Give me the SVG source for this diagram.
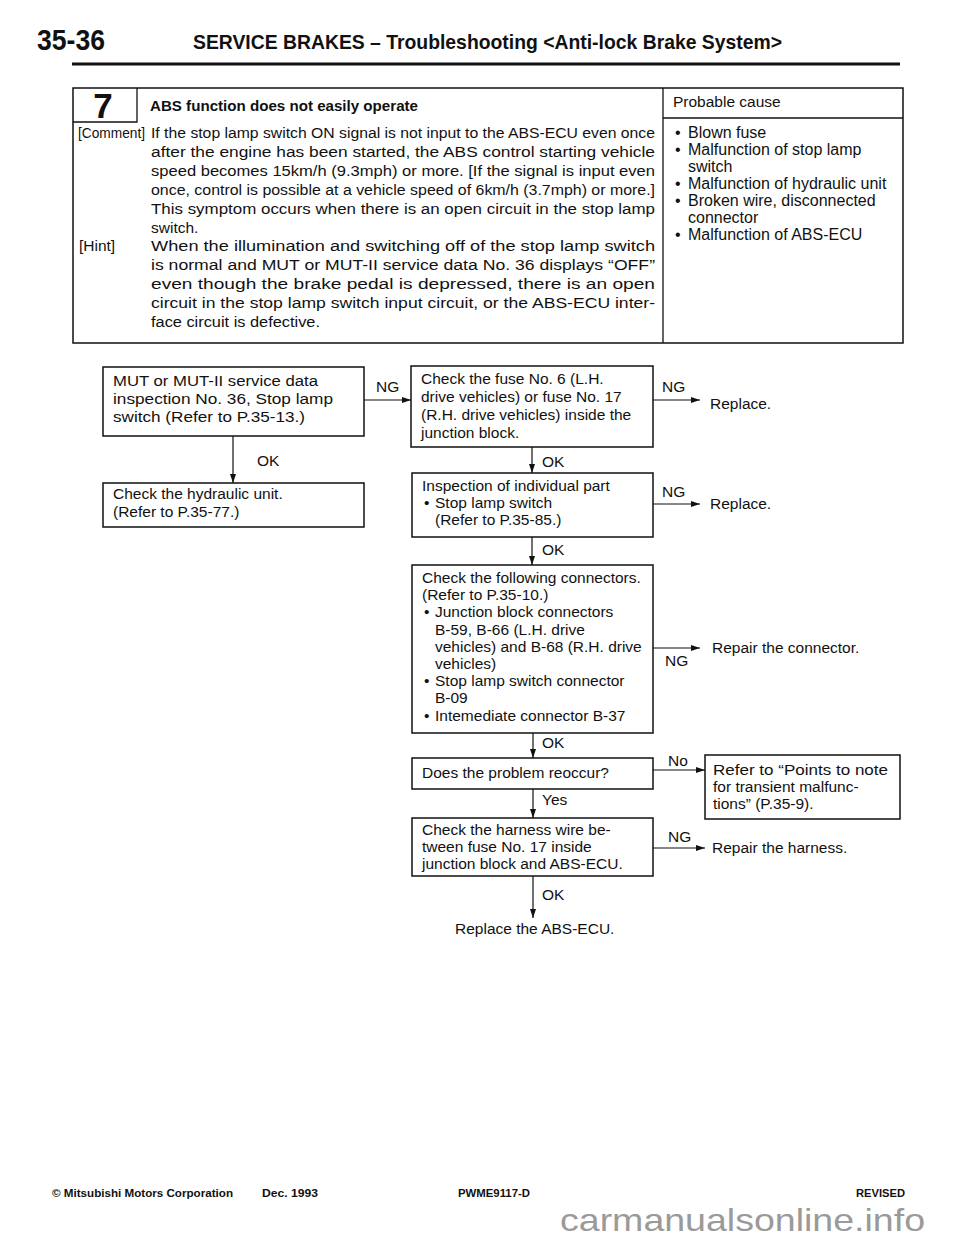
<svg xmlns="http://www.w3.org/2000/svg" width="960" height="1239" viewBox="0 0 960 1239">
<defs>
<marker id="arr" markerWidth="9" markerHeight="6" refX="9" refY="3" orient="auto" markerUnits="userSpaceOnUse">
<path d="M0,0 L9,3 L0,6 z" fill="#111"/>
</marker>
<style>
text{font-family:"Liberation Sans",Arial,sans-serif;fill:#111}
.t{font-size:15.5px}
.p{font-size:16px}
.f{font-size:15.5px}
.b{font-weight:bold}
.box{fill:none;stroke:#111;stroke-width:1.5}
.ln{stroke:#111;stroke-width:1.3;fill:none}
.cn{stroke:#111;stroke-width:1.2;fill:none;marker-end:url(#arr)}
.ft{font-size:10.5px;font-weight:bold}
</style>
</defs>
<rect width="960" height="1239" fill="#fff"/>

<g id="header">
<text x="37" y="50" class="b" font-size="29" textLength="68" lengthAdjust="spacingAndGlyphs">35-36</text>
<text x="193" y="49" class="b" font-size="21" textLength="589" lengthAdjust="spacingAndGlyphs">SERVICE BRAKES – Troubleshooting &lt;Anti-lock Brake System&gt;</text>
<line x1="72" y1="64" x2="900" y2="64" stroke="#111" stroke-width="3"/>
</g>

<g id="symptom-table">
<rect x="73" y="88" width="830" height="255" class="box"/>
<polyline points="73,122 137,122 137,88" class="ln"/>
<text x="103" y="118" class="b" font-size="35" text-anchor="middle">7</text>
<text x="150" y="111" class="b" font-size="15.5" textLength="268" lengthAdjust="spacingAndGlyphs">ABS function does not easily operate</text>
<line x1="663" y1="88" x2="663" y2="343" class="ln"/>
<line x1="663" y1="118" x2="903" y2="118" class="ln"/>
<text x="673" y="107" class="t">Probable cause</text>
<text x="675" y="138" class="p">•</text><text x="688" y="138" class="p">Blown fuse</text>
<text x="675" y="155" class="p">•</text><text x="688" y="155" class="p">Malfunction of stop lamp</text>
<text x="688" y="172" class="p">switch</text>
<text x="675" y="189" class="p">•</text><text x="688" y="189" class="p">Malfunction of hydraulic unit</text>
<text x="675" y="206" class="p">•</text><text x="688" y="206" class="p">Broken wire, disconnected</text>
<text x="688" y="223" class="p">connector</text>
<text x="675" y="240" class="p">•</text><text x="688" y="240" class="p">Malfunction of ABS-ECU</text>

<text x="78" y="138" font-size="15" textLength="67" lengthAdjust="spacingAndGlyphs">[Comment]</text>
<text x="151" y="138" class="t" textLength="504" lengthAdjust="spacingAndGlyphs">If the stop lamp switch ON signal is not input to the ABS-ECU even once</text>
<text x="151" y="156.9" class="t" textLength="504" lengthAdjust="spacingAndGlyphs">after the engine has been started, the ABS control starting vehicle</text>
<text x="151" y="175.8" class="t" textLength="504" lengthAdjust="spacingAndGlyphs">speed becomes 15km/h (9.3mph) or more. [If the signal is input even</text>
<text x="151" y="194.7" class="t" textLength="504" lengthAdjust="spacingAndGlyphs">once, control is possible at a vehicle speed of 6km/h (3.7mph) or more.]</text>
<text x="151" y="213.6" class="t" textLength="504" lengthAdjust="spacingAndGlyphs">This symptom occurs when there is an open circuit in the stop lamp</text>
<text x="151" y="232.5" class="t">switch.</text>
<text x="79" y="251.4" class="t">[Hint]</text>
<text x="151" y="251.4" class="t" textLength="504" lengthAdjust="spacingAndGlyphs">When the illumination and switching off of the stop lamp switch</text>
<text x="151" y="270.3" class="t" textLength="504" lengthAdjust="spacingAndGlyphs">is normal and MUT or MUT-II service data No. 36 displays “OFF”</text>
<text x="151" y="289.2" class="t" textLength="504" lengthAdjust="spacingAndGlyphs">even though the brake pedal is depressed, there is an open</text>
<text x="151" y="308.1" class="t" textLength="504" lengthAdjust="spacingAndGlyphs">circuit in the stop lamp switch input circuit, or the ABS-ECU inter-</text>
<text x="151" y="327" class="t" textLength="169" lengthAdjust="spacingAndGlyphs">face circuit is defective.</text>
</g>

<g id="connectors">
<line x1="233" y1="436" x2="233" y2="483" class="cn"/>
<line x1="364" y1="400" x2="411" y2="400" class="cn"/>
<line x1="653" y1="400" x2="700" y2="400" class="cn"/>
<line x1="532" y1="447" x2="532" y2="473" class="cn"/>
<line x1="653" y1="504" x2="700" y2="504" class="cn"/>
<line x1="532" y1="537" x2="532" y2="565" class="cn"/>
<line x1="653" y1="648" x2="700" y2="648" class="cn"/>
<line x1="533" y1="733" x2="533" y2="758" class="cn"/>
<line x1="653" y1="770" x2="705" y2="770" class="cn"/>
<line x1="533" y1="789" x2="533" y2="818" class="cn"/>
<line x1="653" y1="848" x2="705" y2="848" class="cn"/>
<line x1="533" y1="876" x2="533" y2="918" class="cn"/>
<text x="257" y="466" class="f">OK</text>
<text x="376" y="392" class="f">NG</text>
<text x="662" y="392" class="f">NG</text>
<text x="542" y="467" class="f">OK</text>
<text x="662" y="497" class="f">NG</text>
<text x="542" y="555" class="f">OK</text>
<text x="665" y="666" class="f">NG</text>
<text x="542" y="748" class="f">OK</text>
<text x="668" y="766" class="f">No</text>
<text x="542" y="805" class="f">Yes</text>
<text x="668" y="842" class="f">NG</text>
<text x="542" y="900" class="f">OK</text>
</g>

<g id="node-mut">
<rect x="103" y="367" width="261" height="69" class="box"/>
<text x="113" y="386" class="f" textLength="205" lengthAdjust="spacingAndGlyphs">MUT or MUT-II service data</text>
<text x="113" y="404" class="f" textLength="220" lengthAdjust="spacingAndGlyphs">inspection No. 36, Stop lamp</text>
<text x="113" y="422" class="f" textLength="192" lengthAdjust="spacingAndGlyphs">switch (Refer to P.35-13.)</text>
</g>

<g id="node-hydraulic">
<rect x="103" y="483" width="261" height="44" class="box"/>
<text x="113" y="499" class="f">Check the hydraulic unit.</text>
<text x="113" y="517" class="f">(Refer to P.35-77.)</text>
</g>

<g id="node-fuse">
<rect x="411" y="366" width="242" height="81" class="box"/>
<text x="421" y="384" class="f">Check the fuse  No. 6 (L.H.</text>
<text x="421" y="402" class="f">drive vehicles) or fuse No. 17</text>
<text x="421" y="420" class="f">(R.H. drive vehicles) inside the</text>
<text x="421" y="438" class="f">junction block.</text>
</g>

<g id="node-replace1">
<text x="710" y="409" class="f">Replace.</text>
</g>

<g id="node-inspection">
<rect x="412" y="473" width="241" height="64" class="box"/>
<text x="422" y="491" class="f">Inspection of individual part</text>
<text x="424" y="508" class="f">•</text><text x="435" y="508" class="f">Stop lamp switch</text>
<text x="435" y="525" class="f">(Refer to P.35-85.)</text>
</g>

<g id="node-replace2">
<text x="710" y="509" class="f">Replace.</text>
</g>

<g id="node-connectors">
<rect x="412" y="565" width="241" height="168" class="box"/>
<text x="422" y="583" class="f">Check the following connectors.</text>
<text x="422" y="600.2" class="f">(Refer to P.35-10.)</text>
<text x="424" y="617.4" class="f">•</text><text x="435" y="617.4" class="f">Junction block connectors</text>
<text x="435" y="634.6" class="f">B-59, B-66 (L.H. drive</text>
<text x="435" y="651.8" class="f">vehicles) and B-68 (R.H. drive</text>
<text x="435" y="669" class="f">vehicles)</text>
<text x="424" y="686.2" class="f">•</text><text x="435" y="686.2" class="f">Stop lamp switch connector</text>
<text x="435" y="703.4" class="f">B-09</text>
<text x="424" y="720.6" class="f">•</text><text x="435" y="720.6" class="f">Intemediate connector B-37</text>
</g>

<g id="node-repair-connector">
<text x="712" y="653" class="f">Repair the connector.</text>
</g>

<g id="node-reoccur">
<rect x="412" y="758" width="241" height="31" class="box"/>
<text x="422" y="778" class="f">Does the problem reoccur?</text>
</g>

<g id="node-transient">
<rect x="705" y="755" width="195" height="64" class="box"/>
<text x="713" y="775" class="f" textLength="175" lengthAdjust="spacingAndGlyphs">Refer to “Points  to note</text>
<text x="713" y="792" class="f">for transient malfunc-</text>
<text x="713" y="809" class="f">tions” (P.35-9).</text>
</g>

<g id="node-harness">
<rect x="412" y="818" width="241" height="58" class="box"/>
<text x="422" y="835" class="f">Check the harness wire be-</text>
<text x="422" y="852" class="f">tween fuse No. 17 inside</text>
<text x="422" y="869" class="f">junction block and ABS-ECU.</text>
</g>

<g id="node-repair-harness">
<text x="712" y="853" class="f">Repair the harness.</text>
</g>

<g id="node-replace-ecu">
<text x="455" y="934" class="f">Replace the ABS-ECU.</text>
</g>

<g id="footer">
<text x="52" y="1197" class="ft" textLength="181" lengthAdjust="spacingAndGlyphs">© Mitsubishi Motors Corporation</text>
<text x="262" y="1197" class="ft" textLength="56" lengthAdjust="spacingAndGlyphs">Dec. 1993</text>
<text x="458" y="1197" class="ft" textLength="72" lengthAdjust="spacingAndGlyphs">PWME9117-D</text>
<text x="856" y="1197" class="ft" textLength="49" lengthAdjust="spacingAndGlyphs">REVISED</text>
<text x="560" y="1231" font-size="32" style="fill:#9a9a9a" textLength="365" lengthAdjust="spacingAndGlyphs">carmanualsonline.info</text>
</g>
</svg>
